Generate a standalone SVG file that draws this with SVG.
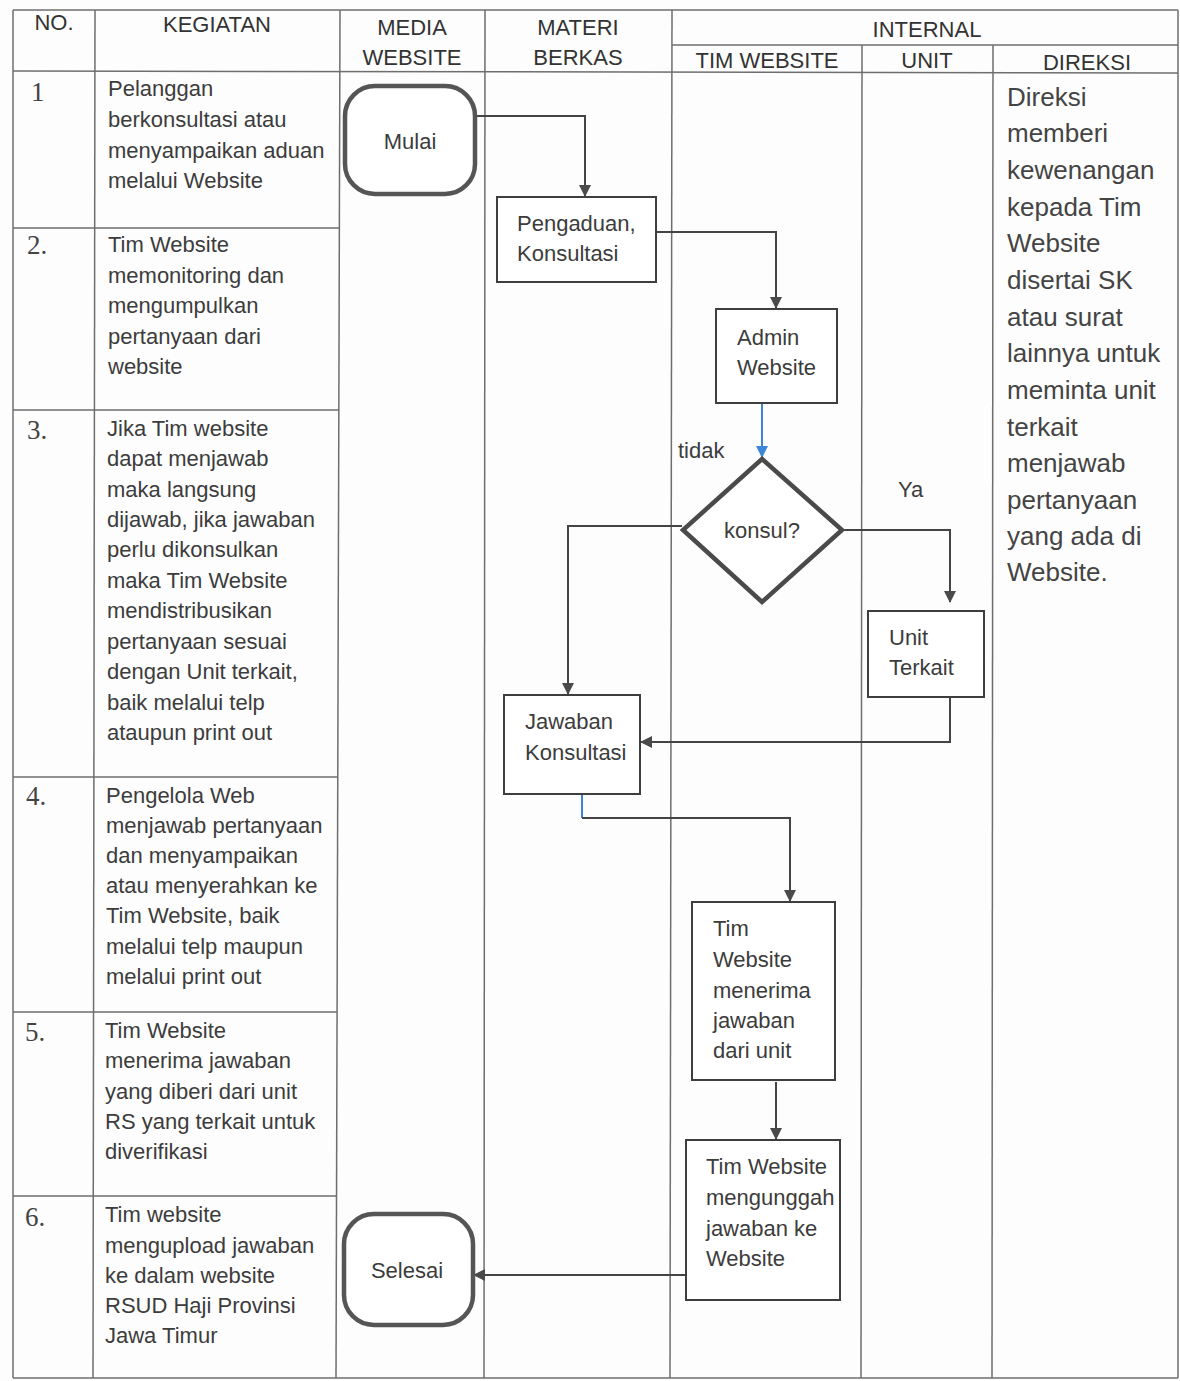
<svg xmlns="http://www.w3.org/2000/svg" width="1180" height="1381" viewBox="0 0 1180 1381">
<style>
.grid{stroke:#6e6e6e;stroke-width:1.5;fill:none}
.t{font-family:"Liberation Sans",Arial,sans-serif;font-size:22px;fill:#3c3c3c}
.h{font-family:"Liberation Sans",Arial,sans-serif;font-size:22px;fill:#333;text-anchor:middle}
.num{font-family:"Liberation Serif","Times New Roman",serif;font-size:27px;fill:#444}
.dir{font-family:"Liberation Sans",Arial,sans-serif;font-size:26px;fill:#444}
.box{fill:#fff;stroke:#3e3e3e;stroke-width:2}
.term{fill:#fff;stroke:#555;stroke-width:4.5}
.dia{fill:#fff;stroke:#4a4a4a;stroke-width:4.5}
.c{fill:none;stroke:#444;stroke-width:2}
.cb{fill:none;stroke:#3b86d6;stroke-width:2}
.mid{text-anchor:middle}
</style>
<defs>
<marker id="ah" markerWidth="12" markerHeight="12" refX="11" refY="6" orient="auto" markerUnits="userSpaceOnUse">
<path d="M0,0 L12,6 L0,12 Z" fill="#4a4a4a"/>
</marker>
<marker id="ahb" markerWidth="12" markerHeight="12" refX="11" refY="6" orient="auto" markerUnits="userSpaceOnUse">
<path d="M0,0 L12,6 L0,12 Z" fill="#3b86d6"/>
</marker>
</defs>
<rect x="0" y="0" width="1180" height="1381" fill="#fdfdfd"/>

<g id="table">
<line class="grid" x1="13" y1="10" x2="1178" y2="10"/>
<line class="grid" x1="672" y1="45" x2="1178" y2="45"/>
<line class="grid" x1="13" y1="71" x2="1178" y2="73"/>
<line class="grid" x1="13" y1="1378" x2="1178" y2="1378"/>
<line class="grid" x1="13" y1="10" x2="13" y2="1378"/>
<line class="grid" x1="95" y1="10" x2="93" y2="1378"/>
<line class="grid" x1="340" y1="10" x2="336" y2="1378"/>
<line class="grid" x1="485" y1="10" x2="484" y2="1378"/>
<line class="grid" x1="672" y1="10" x2="670" y2="1378"/>
<line class="grid" x1="862" y1="45" x2="861" y2="1378"/>
<line class="grid" x1="993" y1="45" x2="992" y2="1378"/>
<line class="grid" x1="1178" y1="10" x2="1178" y2="1378"/>
<line class="grid" x1="13" y1="228" x2="340" y2="228"/>
<line class="grid" x1="13" y1="410" x2="339" y2="410"/>
<line class="grid" x1="13" y1="777" x2="338" y2="777"/>
<line class="grid" x1="13" y1="1012" x2="337" y2="1012"/>
<line class="grid" x1="13" y1="1196" x2="337" y2="1196"/>
</g>

<g id="headers">
<text class="h" x="54" y="30">NO.</text>
<text class="h" x="217" y="32">KEGIATAN</text>
<text class="h" x="412" y="35">MEDIA</text>
<text class="h" x="412" y="65">WEBSITE</text>
<text class="h" x="578" y="35">MATERI</text>
<text class="h" x="578" y="65">BERKAS</text>
<text class="h" x="927" y="37">INTERNAL</text>
<text class="h" x="767" y="68">TIM WEBSITE</text>
<text class="h" x="927" y="68">UNIT</text>
<text class="h" x="1087" y="70">DIREKSI</text>
</g>

<g id="numbers">
<text class="num" x="31" y="101">1</text>
<text class="num" x="27" y="254">2.</text>
<text class="num" x="27" y="439">3.</text>
<text class="num" x="26" y="805">4.</text>
<text class="num" x="25" y="1041">5.</text>
<text class="num" x="25" y="1226">6.</text>
</g>

<g id="kegiatan">
<text class="t" x="108" y="96">Pelanggan</text>
<text class="t" x="108" y="127">berkonsultasi atau</text>
<text class="t" x="108" y="158">menyampaikan aduan</text>
<text class="t" x="108" y="188">melalui Website</text>

<text class="t" x="108" y="252">Tim Website</text>
<text class="t" x="108" y="283">memonitoring dan</text>
<text class="t" x="108" y="313">mengumpulkan</text>
<text class="t" x="108" y="344">pertanyaan dari</text>
<text class="t" x="108" y="374">website</text>

<text class="t" x="107" y="436">Jika Tim website</text>
<text class="t" x="107" y="466">dapat menjawab</text>
<text class="t" x="107" y="497">maka langsung</text>
<text class="t" x="107" y="527">dijawab, jika jawaban</text>
<text class="t" x="107" y="557">perlu dikonsulkan</text>
<text class="t" x="107" y="588">maka Tim Website</text>
<text class="t" x="107" y="618">mendistribusikan</text>
<text class="t" x="107" y="649">pertanyaan sesuai</text>
<text class="t" x="107" y="679">dengan Unit terkait,</text>
<text class="t" x="107" y="710">baik melalui telp</text>
<text class="t" x="107" y="740">ataupun print out</text>

<text class="t" x="106" y="803">Pengelola Web</text>
<text class="t" x="106" y="833">menjawab pertanyaan</text>
<text class="t" x="106" y="863">dan menyampaikan</text>
<text class="t" x="106" y="893">atau menyerahkan ke</text>
<text class="t" x="106" y="923">Tim Website, baik</text>
<text class="t" x="106" y="954">melalui telp maupun</text>
<text class="t" x="106" y="984">melalui print out</text>

<text class="t" x="105" y="1038">Tim Website</text>
<text class="t" x="105" y="1068">menerima jawaban</text>
<text class="t" x="105" y="1099">yang diberi dari unit</text>
<text class="t" x="105" y="1129">RS yang terkait untuk</text>
<text class="t" x="105" y="1159">diverifikasi</text>

<text class="t" x="105" y="1222">Tim website</text>
<text class="t" x="105" y="1253">mengupload jawaban</text>
<text class="t" x="105" y="1283">ke dalam website</text>
<text class="t" x="105" y="1313">RSUD Haji Provinsi</text>
<text class="t" x="105" y="1343">Jawa Timur</text>
</g>

<g id="direksi">
<text class="dir" x="1007" y="106">Direksi</text>
<text class="dir" x="1007" y="142">memberi</text>
<text class="dir" x="1007" y="179">kewenangan</text>
<text class="dir" x="1007" y="216">kepada Tim</text>
<text class="dir" x="1007" y="252">Website</text>
<text class="dir" x="1007" y="289">disertai SK</text>
<text class="dir" x="1007" y="326">atau surat</text>
<text class="dir" x="1007" y="362">lainnya untuk</text>
<text class="dir" x="1007" y="399">meminta unit</text>
<text class="dir" x="1007" y="436">terkait</text>
<text class="dir" x="1007" y="472">menjawab</text>
<text class="dir" x="1007" y="509">pertanyaan</text>
<text class="dir" x="1007" y="545">yang ada di</text>
<text class="dir" x="1007" y="581">Website.</text>
</g>

<g id="connectors">
<polyline class="c" points="476,116 585,116 585,196" marker-end="url(#ah)"/>
<polyline class="c" points="656,232 776,232 776,308" marker-end="url(#ah)"/>
<polyline class="cb" points="762,403 762,457" marker-end="url(#ahb)"/>
<polyline class="c" points="682,526 568,526 568,694" marker-end="url(#ah)"/>
<polyline class="c" points="843,530 950,530 950,602" marker-end="url(#ah)"/>
<polyline class="c" points="950,697 950,742 641,742" marker-end="url(#ah)"/>
<polyline class="cb" points="582,794 582,818"/>
<polyline class="c" points="582,818 790,818 790,901" marker-end="url(#ah)"/>
<polyline class="c" points="776,1082 776,1139" marker-end="url(#ah)"/>
<polyline class="c" points="686,1275 474,1275" marker-end="url(#ah)"/>
<text class="t" x="678" y="458">tidak</text>
<text class="t" x="898" y="497">Ya</text>
</g>

<g id="node-mulai">
<rect class="term" x="345" y="86" width="130" height="108" rx="30" ry="30"/>
<text class="t mid" x="410" y="149">Mulai</text>
</g>
<g id="node-pengaduan">
<rect class="box" x="497" y="197" width="159" height="85"/>
<text class="t" x="517" y="231">Pengaduan,</text>
<text class="t" x="517" y="261">Konsultasi</text>
</g>
<g id="node-admin">
<rect class="box" x="716" y="309" width="121" height="94"/>
<text class="t" x="737" y="345">Admin</text>
<text class="t" x="737" y="375">Website</text>
</g>
<g id="node-konsul">
<polygon class="dia" points="762,459 842,530 762,602 683,530"/>
<text class="t mid" x="762" y="538">konsul?</text>
</g>
<g id="node-unit">
<rect class="box" x="868" y="611" width="116" height="86"/>
<text class="t" x="889" y="645">Unit</text>
<text class="t" x="889" y="675">Terkait</text>
</g>
<g id="node-jawaban">
<rect class="box" x="504" y="695" width="136" height="99"/>
<text class="t" x="525" y="729">Jawaban</text>
<text class="t" x="525" y="760">Konsultasi</text>
</g>
<g id="node-menerima">
<rect class="box" x="692" y="902" width="143" height="178"/>
<text class="t" x="713" y="936">Tim</text>
<text class="t" x="713" y="967">Website</text>
<text class="t" x="713" y="998">menerima</text>
<text class="t" x="713" y="1028">jawaban</text>
<text class="t" x="713" y="1058">dari unit</text>
</g>
<g id="node-mengunggah">
<rect class="box" x="686" y="1140" width="154" height="160"/>
<text class="t" x="706" y="1174">Tim Website</text>
<text class="t" x="706" y="1205">mengunggah</text>
<text class="t" x="706" y="1236">jawaban ke</text>
<text class="t" x="706" y="1266">Website</text>
</g>
<g id="node-selesai">
<rect class="term" x="344" y="1214" width="129" height="111" rx="30" ry="30"/>
<text class="t mid" x="407" y="1278">Selesai</text>
</g>
</svg>
